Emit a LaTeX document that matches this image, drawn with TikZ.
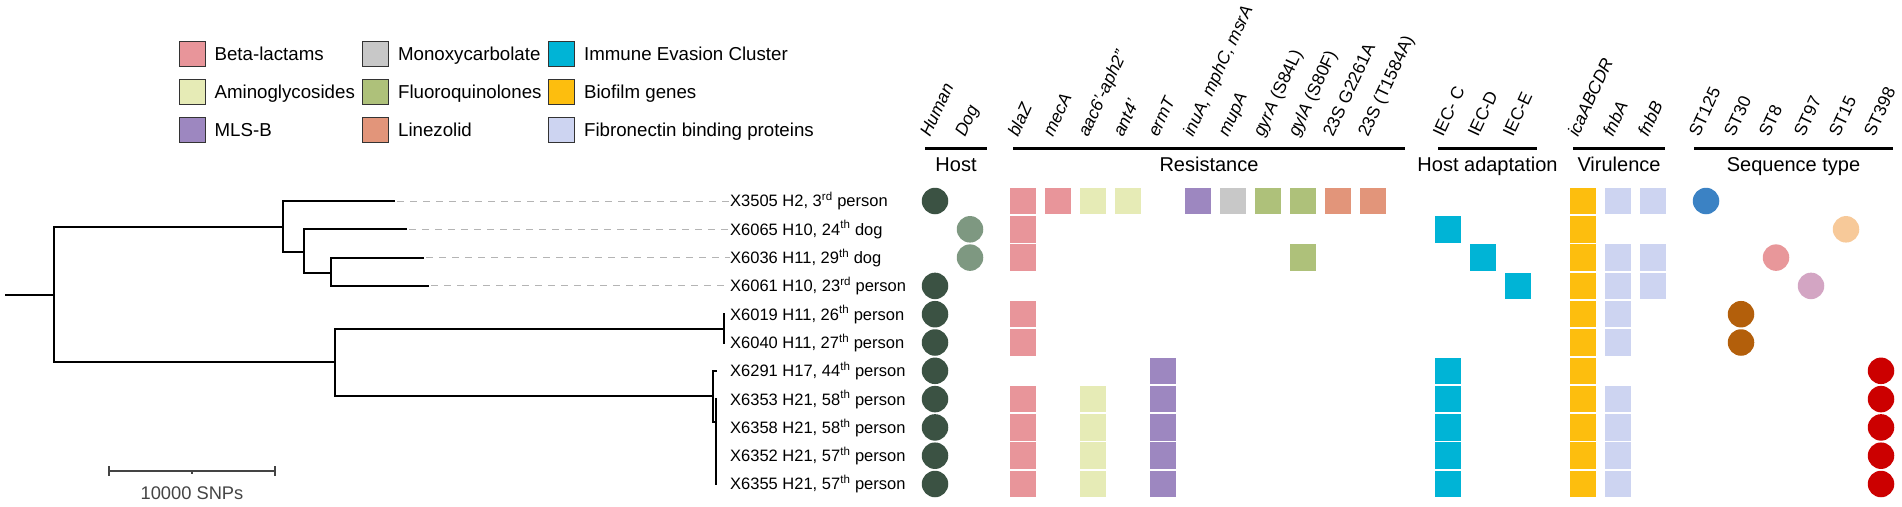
\documentclass[tikz,border=0pt]{standalone}
\usepackage{fontspec}
\setmainfont{Liberation Sans}
\usetikzlibrary{positioning}

\definecolor{beta}{HTML}{E8959A}
\definecolor{amino}{HTML}{E6EBB6}
\definecolor{mlsb}{HTML}{9D87C0}
\definecolor{mono}{HTML}{C8C8C8}
\definecolor{fluoro}{HTML}{AEC17A}
\definecolor{linez}{HTML}{E2957A}
\definecolor{iec}{HTML}{00B4D6}
\definecolor{biofilm}{HTML}{FDBE0E}
\definecolor{fnb}{HTML}{CDD4F1}
\definecolor{human}{HTML}{3B5243}
\definecolor{dog}{HTML}{7E9881}
\definecolor{stA}{HTML}{3B82C4}
\definecolor{stB}{HTML}{B35F0B}
\definecolor{stC}{HTML}{E8979A}
\definecolor{stD}{HTML}{D3A5C3}
\definecolor{stE}{HTML}{F7C999}
\definecolor{stF}{HTML}{CC0000}
\definecolor{scalegrey}{HTML}{444444}

\begin{document}
\begin{tikzpicture}[x=1pt,y=-1pt,
  branch/.style={line width=2pt,line cap=rect},
  leafdash/.style={mono!90!black,line width=1pt,dash pattern=on 7pt off 6pt},
  cell/.style={rectangle,minimum width=26.5pt,minimum height=26.5pt,inner sep=0pt},
  dot/.style={circle,minimum size=26.5pt,inner sep=0pt},
  legbox/.style={rectangle,draw=black!80,line width=.8pt,minimum width=26pt,minimum height=25pt,inner sep=0pt},
  legtext/.style={font=\fontsize{18.7}{21}\selectfont,inner sep=0pt,text height=13.4pt,text depth=0pt},
  rowlabel/.style={font=\fontsize{16.5}{19}\selectfont,inner sep=0pt,anchor=west,text height=11.8pt,text depth=0pt},
  collabel/.style={font=\fontsize{17.5}{20}\selectfont,inner sep=0pt,anchor=base west,rotate=65},
  grouplabel/.style={font=\fontsize{20}{23}\selectfont,inner sep=0pt,text height=14.3pt,text depth=0pt},
  groupline/.style={line width=3pt}]
  \useasboundingbox (0,0) rectangle (1902,506);

  % rows and columns
  \foreach \i in {1,...,11}
    \coordinate (r\i) at (0,{201+28.3*(\i-1)});
  \coordinate (cHuman) at (935,0);
  \coordinate (cDog) at (970,0);
  \coordinate (cBlaZ) at (1023,0);
  \coordinate (cMecA) at (1058,0);
  \coordinate (cAac) at (1093,0);
  \coordinate (cAnt) at (1128,0);
  \coordinate (cErmT) at (1163,0);
  \coordinate (cInuA) at (1198,0);
  \coordinate (cMupA) at (1233,0);
  \coordinate (cGyrA) at (1268,0);
  \coordinate (cGylA) at (1303,0);
  \coordinate (cRnaG) at (1338,0);
  \coordinate (cRnaT) at (1373,0);
  \coordinate (cIecC) at (1448,0);
  \coordinate (cIecD) at (1483,0);
  \coordinate (cIecE) at (1518,0);
  \coordinate (cIca) at (1583,0);
  \coordinate (cFnbA) at (1618,0);
  \coordinate (cFnbB) at (1653,0);
  \coordinate (cST125) at (1706,0);
  \coordinate (cST30) at (1741,0);
  \coordinate (cST8) at (1776,0);
  \coordinate (cST97) at (1811,0);
  \coordinate (cST15) at (1846,0);
  \coordinate (cST398) at (1881,0);

  % legend
  \node[legbox,fill=beta] (kBeta) at (192,54) {};
  \node[legbox,fill=amino] (kAmino) at (192,92) {};
  \node[legbox,fill=mlsb] (kMlsb) at (192,130) {};
  \node[legbox,fill=mono] (kMono) at (375.5,54) {};
  \node[legbox,fill=fluoro] (kFluoro) at (375.5,92) {};
  \node[legbox,fill=linez] (kLinez) at (375.5,130) {};
  \node[legbox,fill=iec] (kIec) at (561.5,54) {};
  \node[legbox,fill=biofilm] (kBiofilm) at (561.5,92) {};
  \node[legbox,fill=fnb] (kFnb) at (561.5,130) {};
  \node[legtext,right=9pt of kBeta] (tBeta) {Beta-lactams};
  \node[legtext,right=9pt of kAmino] (tAmino) {Aminoglycosides};
  \node[legtext,right=9pt of kMlsb] (tMlsb) {MLS-B};
  \node[legtext,right=9pt of kMono] (tMono) {Monoxycarbolate};
  \node[legtext,right=9pt of kFluoro] (tFluoro) {Fluoroquinolones};
  \node[legtext,right=9pt of kLinez] (tLinez) {Linezolid};
  \node[legtext,right=9pt of kIec] (tIec) {Immune Evasion Cluster};
  \node[legtext,right=9pt of kBiofilm] (tBiofilm) {Biofilm genes};
  \node[legtext,right=9pt of kFnb] (tFnb) {Fibronectin binding proteins};

  % column headers
  \node[collabel] (hHuman) at (930,138) {\itshape Human};
  \node[collabel] (hDog) at (965,138) {\itshape Dog};
  \node[collabel] (hBlaZ) at (1018,138) {\itshape blaZ};
  \node[collabel] (hMecA) at (1053,138) {\itshape mecA};
  \node[collabel] (hAac) at (1088,138) {\itshape aac6’-aph2”};
  \node[collabel] (hAnt) at (1123,138) {\itshape ant4’};
  \node[collabel] (hErmT) at (1158,138) {\itshape ermT};
  \node[collabel] (hInuA) at (1193,138) {\itshape inuA, mphC, msrA};
  \node[collabel] (hMupA) at (1228,138) {\itshape mupA};
  \node[collabel] (hGyrA) at (1263,138) {\textit{gyrA} (S84L)};
  \node[collabel] (hGylA) at (1298,138) {\textit{gylA} (S80F)};
  \node[collabel] (hRnaG) at (1333,138) {23S G2261A};
  \node[collabel] (hRnaT) at (1368,138) {23S (T1584A)};
  \node[collabel] (hIecC) at (1443,138) {IEC- C};
  \node[collabel] (hIecD) at (1478,138) {IEC-D};
  \node[collabel] (hIecE) at (1513,138) {IEC-E};
  \node[collabel] (hIca) at (1578,138) {\itshape icaABCDR};
  \node[collabel] (hFnbA) at (1613,138) {\itshape fnbA};
  \node[collabel] (hFnbB) at (1648,138) {\itshape fnbB};
  \node[collabel] (hST125) at (1699,138) {ST125};
  \node[collabel] (hST30) at (1734,138) {ST30};
  \node[collabel] (hST8) at (1769,138) {ST8};
  \node[collabel] (hST97) at (1804,138) {ST97};
  \node[collabel] (hST15) at (1839,138) {ST15};
  \node[collabel] (hST398) at (1874,138) {ST398};

  % groups
  \draw[groupline] (925,148) -- (987,148);
  \draw[groupline] (1013,148) -- (1405,148);
  \draw[groupline] (1438,148) -- (1537,148);
  \draw[groupline] (1573,148) -- (1665,148);
  \draw[groupline] (1694,148) -- (1893,148);
  \node[grouplabel] (gHost) at (956,164.6) {Host};
  \node[grouplabel] (gRes) at (1209,164.6) {Resistance};
  \node[grouplabel] (gAdapt) at (1487.5,164.6) {Host adaptation};
  \node[grouplabel] (gVir) at (1619,164.6) {Virulence};
  \node[grouplabel] (gST) at (1793.5,164.6) {Sequence type};

  % isolates
  \node[rowlabel] (l1) at (730,201) {X3505 H2, 3\textsuperscript{rd} person};
  \node[rowlabel] (l2) at (730,229.3) {X6065 H10, 24\textsuperscript{th} dog};
  \node[rowlabel] (l3) at (730,257.6) {X6036 H11, 29\textsuperscript{th} dog};
  \node[rowlabel] (l4) at (730,285.9) {X6061 H10, 23\textsuperscript{rd} person};
  \node[rowlabel] (l5) at (730,314.2) {X6019 H11, 26\textsuperscript{th} person};
  \node[rowlabel] (l6) at (730,342.5) {X6040 H11, 27\textsuperscript{th} person};
  \node[rowlabel] (l7) at (730,370.8) {X6291 H17, 44\textsuperscript{th} person};
  \node[rowlabel] (l8) at (730,399.1) {X6353 H21, 58\textsuperscript{th} person};
  \node[rowlabel] (l9) at (730,427.4) {X6358 H21, 58\textsuperscript{th} person};
  \node[rowlabel] (l10) at (730,455.7) {X6352 H21, 57\textsuperscript{th} person};
  \node[rowlabel] (l11) at (730,484) {X6355 H21, 57\textsuperscript{th} person};

  % tree
  \coordinate (root) at (6,295);
  \coordinate (n0) at (54,295);
  \coordinate (nU) at (283,227);
  \coordinate (nU2) at (304,251.5);
  \coordinate (nU3) at (331,272.5);
  \coordinate (nL) at (335,362);
  \coordinate (nL1) at (724,328.5);
  \coordinate (nL2) at (713,396);
  \coordinate (nL3) at (716,422);
  \coordinate (t1) at (394,201);
  \coordinate (t2) at (406,229.3);
  \coordinate (t3) at (423,257.6);
  \coordinate (t4) at (428,285.9);
  \coordinate (t5) at (724,314.2);
  \coordinate (t6) at (724,342.5);
  \coordinate (t7) at (716,370.8);
  \coordinate (t8) at (716,399.1);
  \coordinate (t11) at (716,484);
  \draw[branch] (root) -- (n0);
  \draw[branch] (nU) -| (n0) |- (nL);
  \draw[branch] (t1) -| (nU) |- (nU2);
  \draw[branch] (t2) -| (nU2) |- (nU3);
  \draw[branch] (t3) -| (nU3) |- (t4);
  \draw[branch] (nL1) -| (nL) |- (nL2);
  \draw[branch] (t5) -- (t6);
  \draw[branch] (t7) -| (nL2) |- (nL3);
  \draw[branch] (t8) -- (t11);
  \draw[leafdash] ([xshift=3pt]t1) -- (l1.west);
  \draw[leafdash] ([xshift=3pt]t2) -- (l2.west);
  \draw[leafdash] ([xshift=3pt]t3) -- (l3.west);
  \draw[leafdash] ([xshift=3pt]t4) -- (l4.west);

  % scale bar
  \coordinate (sbL) at (109,471);
  \coordinate (sbM) at (192,471);
  \coordinate (sbR) at (275,471);
  \draw[scalegrey,line width=2pt] (sbL) -- (sbR);
  \draw[scalegrey,line width=2pt] ([yshift=5pt]sbL) -- ([yshift=-5pt]sbL);
  \draw[scalegrey,line width=2pt] ([yshift=5pt]sbR) -- ([yshift=-5pt]sbR);
  \draw[scalegrey,line width=1.5pt] (sbM) -- ([yshift=-3pt]sbM);
  \node[scalegrey,font=\fontsize{18.3}{21}\selectfont,inner sep=0pt] (sbText) at (192,493) {10000 SNPs};

  % host
  \foreach \r in {1,4,5,6,7,8,9,10,11}
    \node[dot,fill=human] (human\r) at (cHuman |- r\r) {};
  \foreach \r in {2,3}
    \node[dot,fill=dog] (dog\r) at (cDog |- r\r) {};

  % resistance
  \foreach \r in {1,2,3,5,6,8,9,10,11}
    \node[cell,fill=beta] (blaZ\r) at (cBlaZ |- r\r) {};
  \node[cell,fill=beta] (mecA1) at (cMecA |- r1) {};
  \foreach \r in {1,8,9,10,11}
    \node[cell,fill=amino] (aac\r) at (cAac |- r\r) {};
  \node[cell,fill=amino] (ant1) at (cAnt |- r1) {};
  \foreach \r in {7,...,11}
    \node[cell,fill=mlsb] (ermT\r) at (cErmT |- r\r) {};
  \node[cell,fill=mlsb] (inuA1) at (cInuA |- r1) {};
  \node[cell,fill=mono] (mupA1) at (cMupA |- r1) {};
  \node[cell,fill=fluoro] (gyrA1) at (cGyrA |- r1) {};
  \foreach \r in {1,3}
    \node[cell,fill=fluoro] (gylA\r) at (cGylA |- r\r) {};
  \node[cell,fill=linez] (rnaG1) at (cRnaG |- r1) {};
  \node[cell,fill=linez] (rnaT1) at (cRnaT |- r1) {};

  % host adaptation
  \foreach \r in {2,7,8,9,10,11}
    \node[cell,fill=iec] (iecC\r) at (cIecC |- r\r) {};
  \node[cell,fill=iec] (iecD3) at (cIecD |- r3) {};
  \node[cell,fill=iec] (iecE4) at (cIecE |- r4) {};

  % virulence
  \foreach \r in {1,...,11}
    \node[cell,fill=biofilm] (ica\r) at (cIca |- r\r) {};
  \foreach \r in {1,3,4,5,6,8,9,10,11}
    \node[cell,fill=fnb] (fnbA\r) at (cFnbA |- r\r) {};
  \foreach \r in {1,3,4}
    \node[cell,fill=fnb] (fnbB\r) at (cFnbB |- r\r) {};

  % sequence type
  \node[dot,fill=stA] (st125) at (cST125 |- r1) {};
  \node[dot,fill=stE] (st15) at (cST15 |- r2) {};
  \node[dot,fill=stC] (st8) at (cST8 |- r3) {};
  \node[dot,fill=stD] (st97) at (cST97 |- r4) {};
  \foreach \r in {5,6}
    \node[dot,fill=stB] (st30\r) at (cST30 |- r\r) {};
  \foreach \r in {7,...,11}
    \node[dot,fill=stF] (st398\r) at (cST398 |- r\r) {};
\end{tikzpicture}
\end{document}
